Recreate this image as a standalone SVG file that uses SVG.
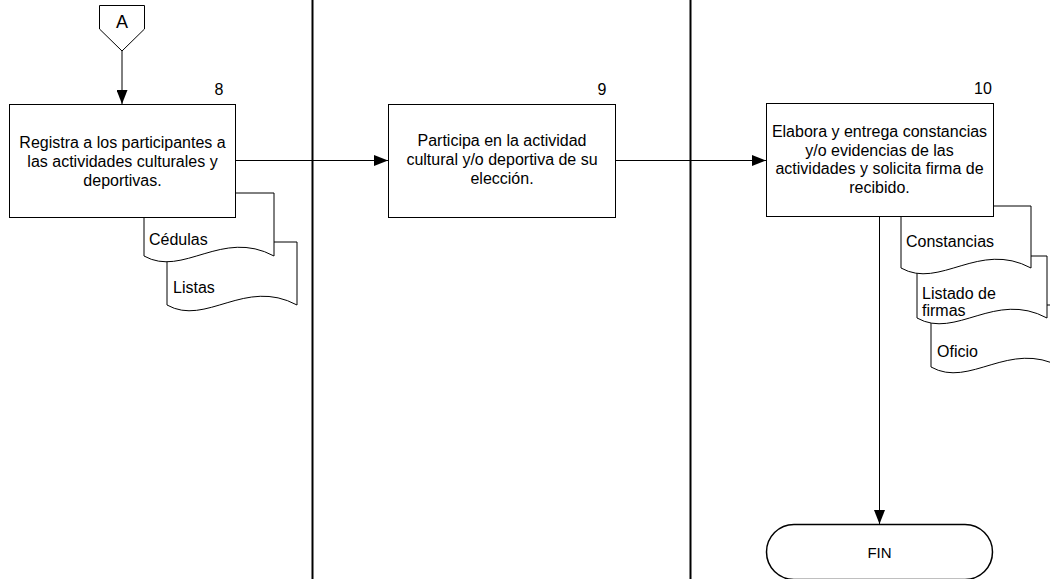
<svg xmlns="http://www.w3.org/2000/svg" width="1050" height="579" viewBox="0 0 1050 579">
<style>
.shape{fill:#fff;stroke:#000;stroke-width:1}
.lane{stroke:#000;stroke-width:2;fill:none}
.conn{stroke:#000;stroke-width:1;fill:none}
text{font-family:"Liberation Sans",Arial,sans-serif;font-size:16px;fill:#000}
.c{text-anchor:middle}
</style>
<defs>
<marker id="arr" markerUnits="userSpaceOnUse" markerWidth="14" markerHeight="11" refX="14" refY="5.5" orient="auto">
<path d="M0,0 L14,5.5 L0,11 Z" fill="#000"/>
</marker>
</defs>
<rect width="1050" height="579" fill="#fff"/>
<g id="lanes">
<line class="lane" x1="312.5" y1="0" x2="312.5" y2="579"/>
<line class="lane" x1="690.5" y1="0" x2="690.5" y2="579"/>
</g>
<g id="connectors">
<line class="conn" x1="122" y1="51" x2="122" y2="104" marker-end="url(#arr)"/>
<line class="conn" x1="235" y1="160.5" x2="388" y2="160.5" marker-end="url(#arr)"/>
<line class="conn" x1="615" y1="160.5" x2="766" y2="160.5" marker-end="url(#arr)"/>
<line class="conn" x1="879.5" y1="217" x2="879.5" y2="524" marker-end="url(#arr)"/>
</g>
<g id="connectorA">
<path class="shape" d="M99.5,5.5 H144.5 V29 L122,51 L99.5,29 Z"/>
<text class="c" x="122" y="28" style="font-size:18px">A</text>
</g>
<g id="doc-listas">
<path class="shape" d="M167,242 H297 V305 C245,277 206,327 167,305 Z"/>
<text x="173" y="293">Listas</text>
</g>
<g id="doc-cedulas">
<path class="shape" d="M144,193 H274 V256 C222,228 183,278 144,256 Z"/>
<text x="149" y="245">Cédulas</text>
</g>
<g id="step8">
<rect class="shape" x="9.5" y="104.5" width="226" height="113"/>
<text class="c" x="219" y="95">8</text>
<text class="c" x="122.5" y="148">Registra a los participantes a</text>
<text class="c" x="122.5" y="167">las actividades culturales y</text>
<text class="c" x="122.5" y="186">deportivas.</text>
</g>
<g id="step9">
<rect class="shape" x="388.5" y="104.5" width="227" height="113"/>
<text class="c" x="602" y="95">9</text>
<text class="c" x="502" y="146">Participa en la actividad</text>
<text class="c" x="502" y="165">cultural y/o deportiva de su</text>
<text class="c" x="502" y="184">elección.</text>
</g>
<g id="doc-oficio">
<path class="shape" d="M931,305 H1061 V367 C1009,339 970,389 931,367 Z"/>
<text x="937" y="357">Oficio</text>
</g>
<g id="doc-listado">
<path class="shape" d="M917,256 H1047 V318 C995,290 956,340 917,318 Z"/>
<text x="922" y="298.5">Listado de</text>
<text x="922" y="316">firmas</text>
</g>
<g id="doc-constancias">
<path class="shape" d="M901,206 H1031 V268 C979,240 940,290 901,268 Z"/>
<text x="906" y="247">Constancias</text>
</g>
<g id="step10">
<rect class="shape" x="766.5" y="103.5" width="227" height="113"/>
<text class="c" x="983" y="94">10</text>
<text class="c" x="879.5" y="137.3">Elabora y entrega constancias</text>
<text class="c" x="879.5" y="155.7">y/o evidencias de las</text>
<text class="c" x="879.5" y="174.1">actividades y solicita firma de</text>
<text class="c" x="879.5" y="192.5">recibido.</text>
</g>
<g id="fin">
<rect class="shape" x="766.5" y="524.5" width="226" height="55" rx="27.5" ry="27.5" style="stroke-width:1.5"/>
<text class="c" x="879.5" y="557.5" style="font-size:15px">FIN</text>
</g>
</svg>
